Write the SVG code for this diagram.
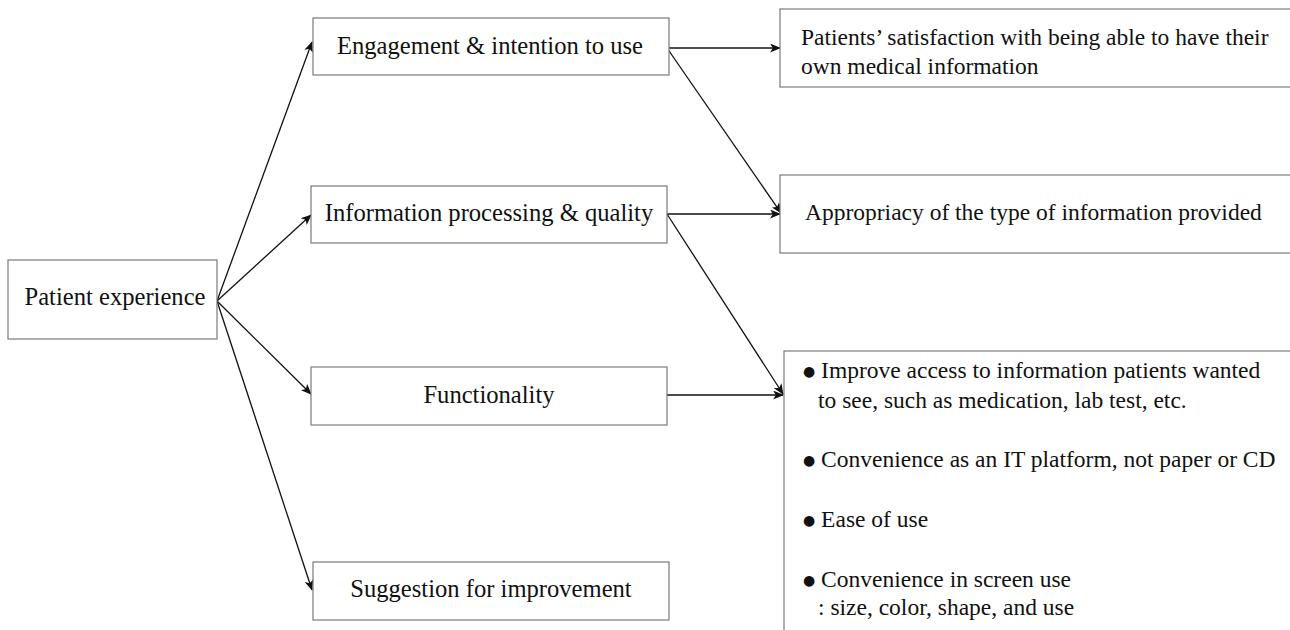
<svg xmlns="http://www.w3.org/2000/svg" width="1290" height="630" viewBox="0 0 1290 630">
  <style>
    .box { fill: #ffffff; stroke: #7a7a7a; stroke-width: 1.2; }
    .lbl { font-family: "Liberation Serif", "Times New Roman", serif; font-size: 23.5px; fill: #111111; }
    .node { font-size: 24.6px; }
    .mid { text-anchor: middle; }
    .dot { font-family: "DejaVu Sans", sans-serif; font-size: 14px; baseline-shift: 2px; }
    .edge { stroke: #111111; stroke-width: 1.3; fill: none; marker-end: url(#arrow); }
  </style>
  <defs>
    <marker id="arrow" viewBox="0 0 12 10" refX="11" refY="5" markerWidth="12" markerHeight="9" markerUnits="userSpaceOnUse" orient="auto">
      <path d="M0,0 L12,5 L0,10 L3,5 Z" fill="#111111"/>
    </marker>
  </defs>
  <rect width="1290" height="630" fill="#ffffff"/>

  <g id="connectors">
    <line class="edge" x1="217" y1="301" x2="312" y2="42"/>
    <line class="edge" x1="217" y1="301" x2="311" y2="215"/>
    <line class="edge" x1="217" y1="301" x2="311" y2="394"/>
    <line class="edge" x1="217" y1="301" x2="312" y2="590"/>
    <line class="edge" x1="667" y1="48" x2="780" y2="48"/>
    <line class="edge" x1="667" y1="48" x2="781" y2="213"/>
    <line class="edge" x1="667" y1="214" x2="780" y2="214"/>
    <line class="edge" x1="667" y1="214" x2="783" y2="394"/>
    <line class="edge" x1="667" y1="395" x2="783" y2="395"/>
  </g>

  <g id="patient-experience">
    <rect class="box" x="8" y="260" width="209" height="79"/>
    <text class="lbl node mid" x="115" y="305">Patient experience</text>
  </g>

  <g id="engagement">
    <rect class="box" x="313" y="18" width="356" height="57"/>
    <text class="lbl node mid" x="490" y="54">Engagement &amp; intention to use</text>
  </g>

  <g id="information-processing">
    <rect class="box" x="311" y="186" width="356" height="57"/>
    <text class="lbl node mid" x="489" y="221">Information processing &amp; quality</text>
  </g>

  <g id="functionality">
    <rect class="box" x="311" y="367" width="356" height="58"/>
    <text class="lbl node mid" x="489" y="403">Functionality</text>
  </g>

  <g id="suggestion">
    <rect class="box" x="313" y="562" width="356" height="58"/>
    <text class="lbl node mid" x="491" y="597">Suggestion for improvement</text>
  </g>

  <g id="satisfaction">
    <rect class="box" x="780" y="9" width="520" height="78"/>
    <text class="lbl" x="801" y="45">Patients’ satisfaction with being able to have their</text>
    <text class="lbl" x="801" y="74">own medical information</text>
  </g>

  <g id="appropriacy">
    <rect class="box" x="780" y="175" width="520" height="78"/>
    <text class="lbl" x="805" y="220">Appropriacy of the type of information provided</text>
  </g>

  <g id="functionality-details">
    <rect class="box" x="784" y="351" width="520" height="300"/>
    <text class="lbl" x="803" y="378"><tspan class="dot">●</tspan> Improve access to information patients wanted</text>
    <text class="lbl" x="818" y="408">to see, such as medication, lab test, etc.</text>
    <text class="lbl" x="803" y="467"><tspan class="dot">●</tspan> Convenience as an IT platform, not paper or CD</text>
    <text class="lbl" x="803" y="527"><tspan class="dot">●</tspan> Ease of use</text>
    <text class="lbl" x="803" y="587"><tspan class="dot">●</tspan> Convenience in screen use</text>
    <text class="lbl" x="818" y="615">: size, color, shape, and use</text>
  </g>
</svg>
